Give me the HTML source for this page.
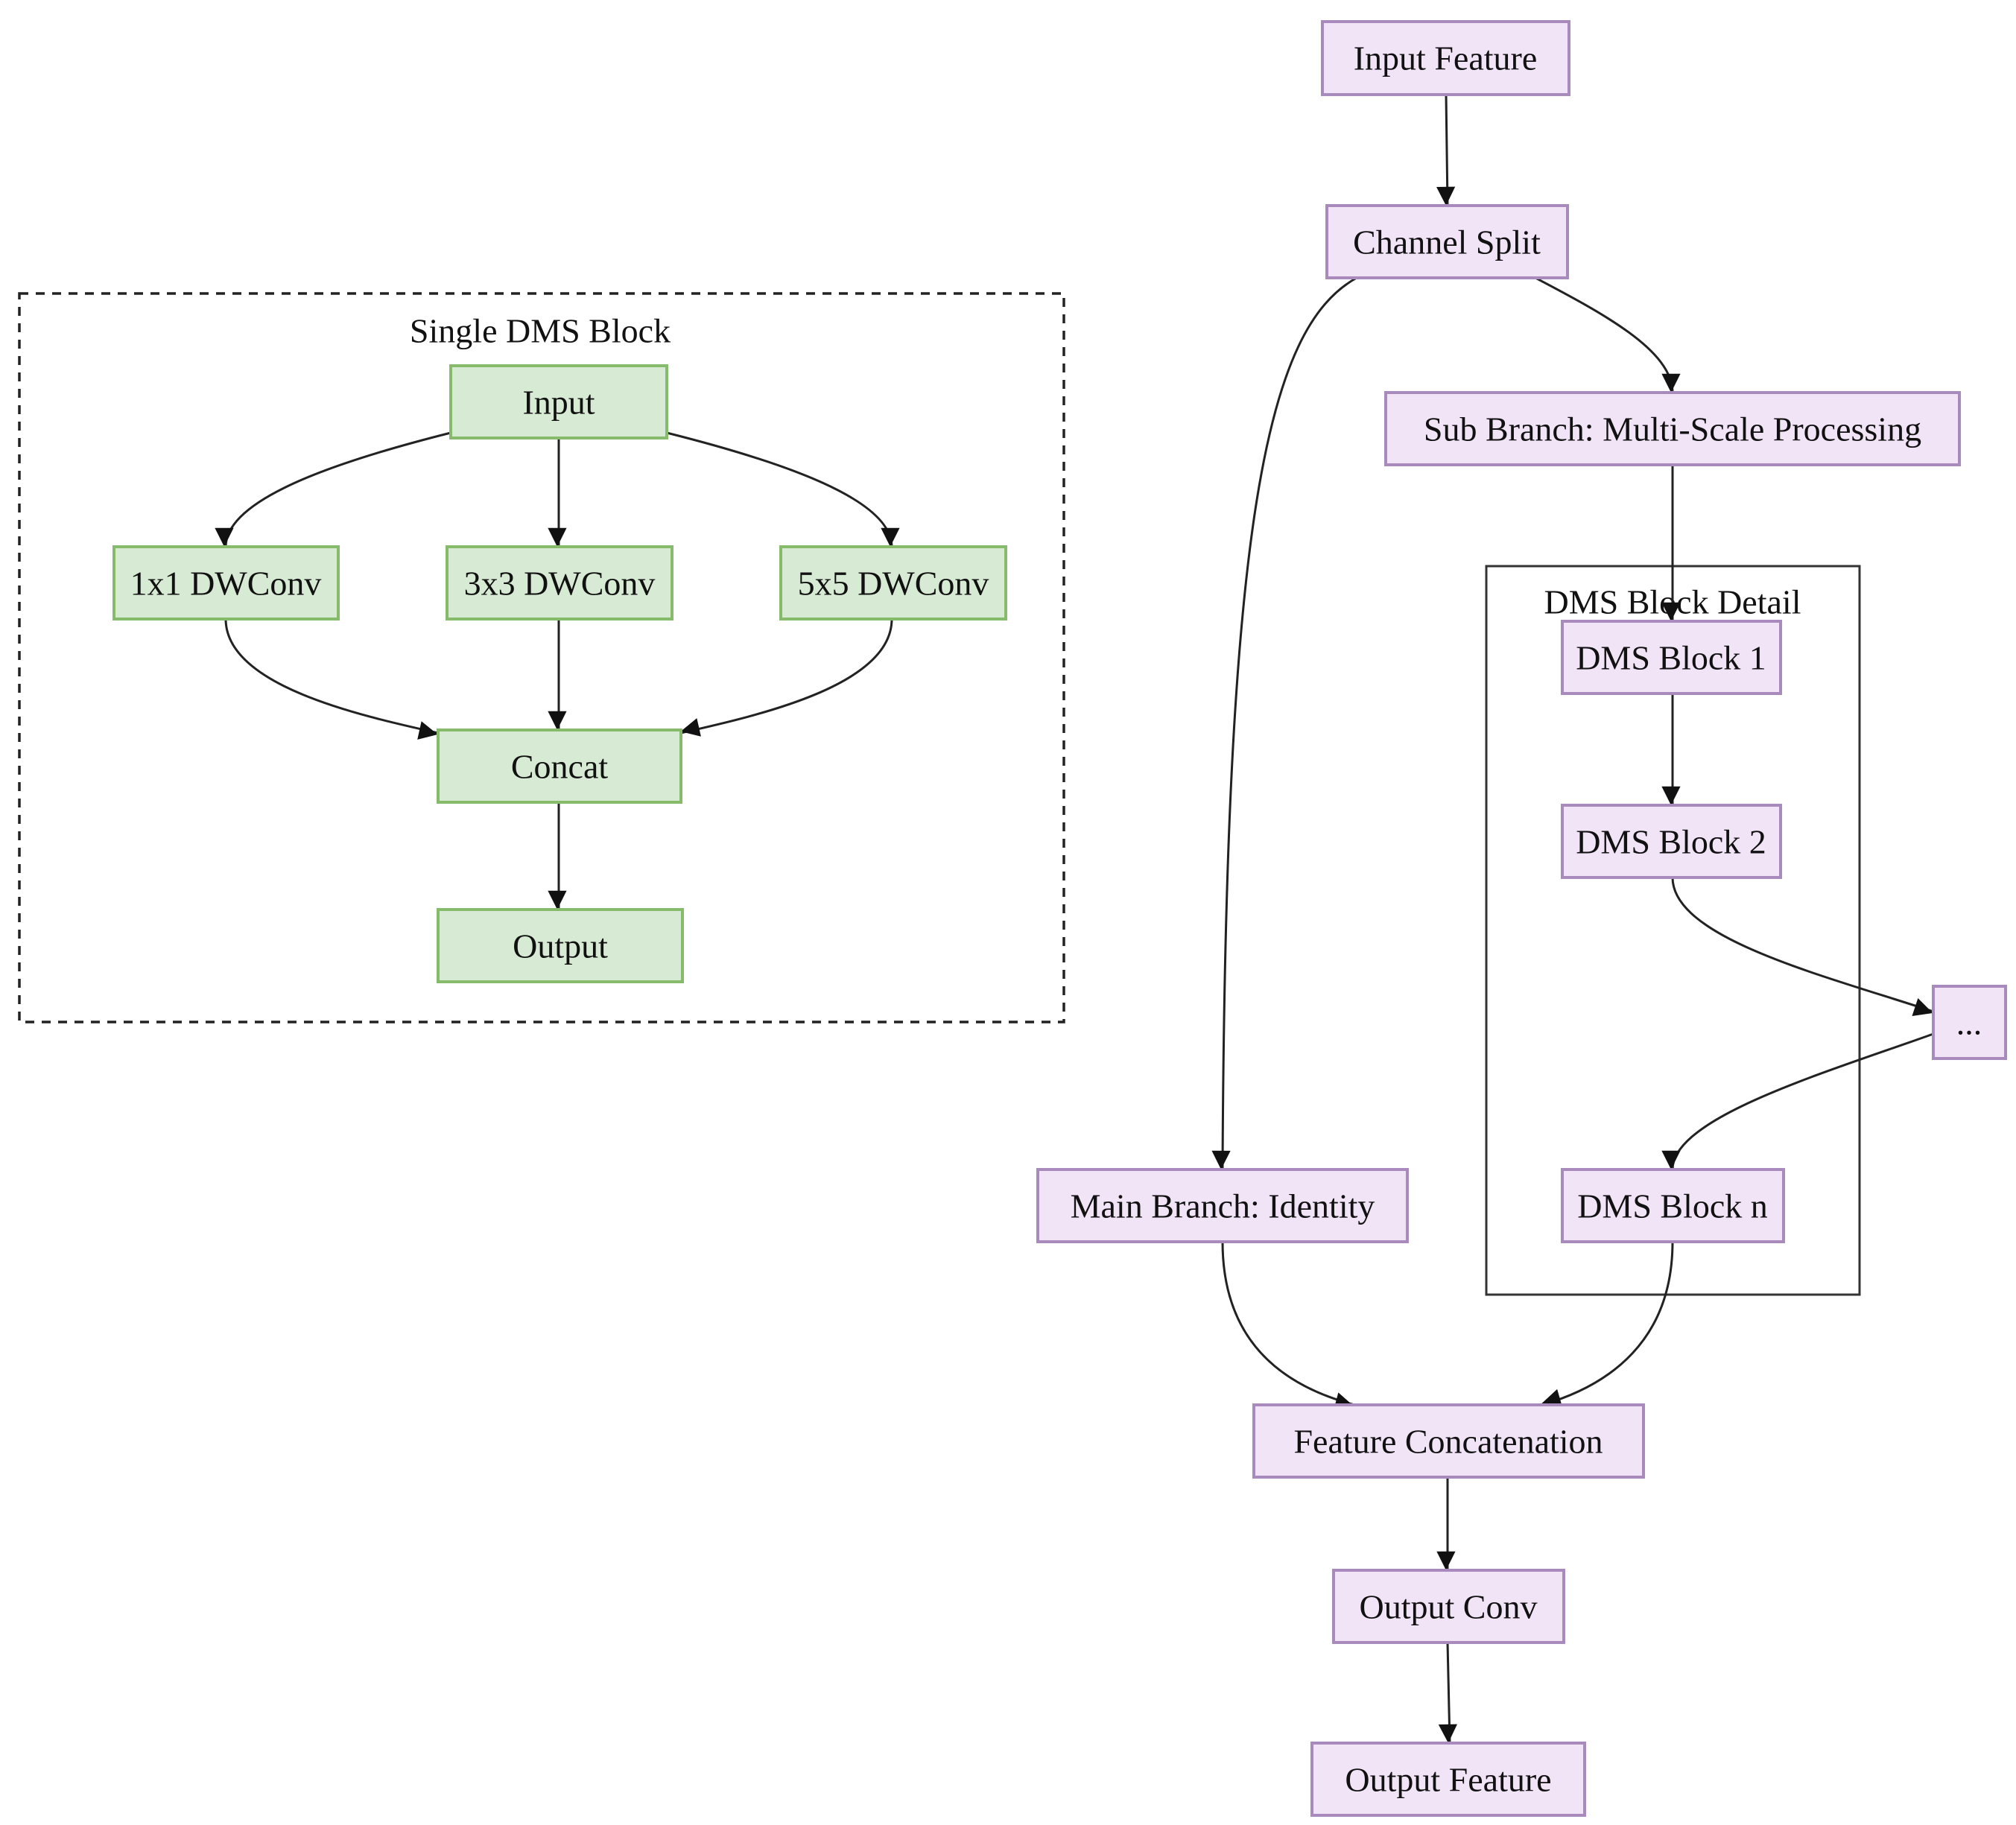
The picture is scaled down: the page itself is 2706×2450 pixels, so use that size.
<!DOCTYPE html>
<html><head><meta charset="utf-8"><style>html,body{margin:0;padding:0;background:#fff}svg{display:block}</style></head>
<body>
<svg width="2706" height="2450" viewBox="0 0 2706 2450" xmlns="http://www.w3.org/2000/svg" font-family="'Liberation Serif', serif">
<defs>
<marker id="a" viewBox="0 0 10 10" refX="9" refY="5" markerWidth="7" markerHeight="7" markerUnits="userSpaceOnUse" orient="auto" style="overflow:visible">
<path d="M0,0 L10,5 L0,10 z" fill="#111" transform="scale(3.6) translate(-7.5,-2.8)"/>
</marker>
</defs>
<style>
.g{fill:#d7ead3;stroke:#86bb6c;stroke-width:4}
.p{fill:#f1e4f6;stroke:#a98abd;stroke-width:4}
.e{fill:none;stroke:#222;stroke-width:3;marker-end:url(#a)}
text{font-size:46px;fill:#111;text-anchor:middle;dominant-baseline:central}
</style>
<!-- left cluster -->
<rect x="26" y="394" width="1402" height="978" fill="none" stroke="#222" stroke-width="3.5" stroke-dasharray="12,10"/>
<text x="725" y="444" font-size="44">Single DMS Block</text>
<path class="e" d="M750,588 L750,734"/>
<path class="e" d="M605,581 C450,620 303,670 303,734"/>
<path class="e" d="M895,581 C1050,620 1197,670 1197,734"/>
<path class="e" d="M303,831 C303,920 480,960 588,984"/>
<path class="e" d="M750,831 L750,980"/>
<path class="e" d="M1197,831 C1197,920 1020,960 914,984"/>
<path class="e" d="M750,1077 L750,1221"/>
<rect class="g" x="605" y="491" width="290" height="97"/><text x="750" y="540" font-size="48">Input</text>
<rect class="g" x="153" y="734" width="301" height="97"/><text x="303" y="783">1x1 DWConv</text>
<rect class="g" x="600" y="734" width="302" height="97"/><text x="751" y="783">3x3 DWConv</text>
<rect class="g" x="1048" y="734" width="302" height="97"/><text x="1199" y="783">5x5 DWConv</text>
<rect class="g" x="588" y="980" width="326" height="97"/><text x="751" y="1029" font-size="48">Concat</text>
<rect class="g" x="588" y="1221" width="328" height="97"/><text x="752" y="1270" font-size="48">Output</text>
<!-- right -->
<rect x="1995" y="760" width="501" height="978" fill="none" stroke="#333" stroke-width="3"/>
<text x="2245" y="808" font-size="44">DMS Block Detail</text>
<path class="e" d="M1941,127 L1943,276"/>
<path class="e" d="M1821,373 C1700,440 1645,700 1641,1570"/>
<path class="e" d="M2061,373 C2150,420 2245,470 2245,527"/>
<path class="e" d="M2245,624 L2245,834"/>
<path class="e" d="M2245,931 L2245,1081"/>
<path class="e" d="M2245,1178 C2245,1260 2450,1310 2595,1358"/>
<path class="e" d="M2595,1388 C2450,1440 2245,1500 2245,1570"/>
<path class="e" d="M1641,1667 C1641,1800 1720,1860 1818,1886"/>
<path class="e" d="M2245,1667 C2245,1800 2160,1860 2070,1886"/>
<path class="e" d="M1943,1983 L1943,2108"/>
<path class="e" d="M1943,2205 L1946,2340"/>
<rect class="p" x="1775" y="29" width="331" height="98"/><text x="1940" y="78">Input Feature</text>
<rect class="p" x="1781" y="276" width="323" height="97"/><text x="1942" y="325">Channel Split</text>
<rect class="p" x="1860" y="527" width="770" height="97"/><text x="2245" y="576">Sub Branch: Multi-Scale Processing</text>
<rect class="p" x="2097" y="834" width="293" height="97"/><text x="2243" y="883">DMS Block 1</text>
<rect class="p" x="2097" y="1081" width="293" height="97"/><text x="2243" y="1130">DMS Block 2</text>
<rect class="p" x="2595" y="1324" width="97" height="97"/><text x="2643" y="1373" font-size="30">...</text>
<rect class="p" x="2097" y="1570" width="297" height="97"/><text x="2245" y="1619">DMS Block n</text>
<rect class="p" x="1393" y="1570" width="496" height="97"/><text x="1641" y="1619">Main Branch: Identity</text>
<rect class="p" x="1683" y="1886" width="523" height="97"/><text x="1944" y="1935">Feature Concatenation</text>
<rect class="p" x="1790" y="2108" width="309" height="97"/><text x="1944" y="2157">Output Conv</text>
<rect class="p" x="1761" y="2340" width="366" height="97"/><text x="1944" y="2389">Output Feature</text>
</svg>
</body></html>
